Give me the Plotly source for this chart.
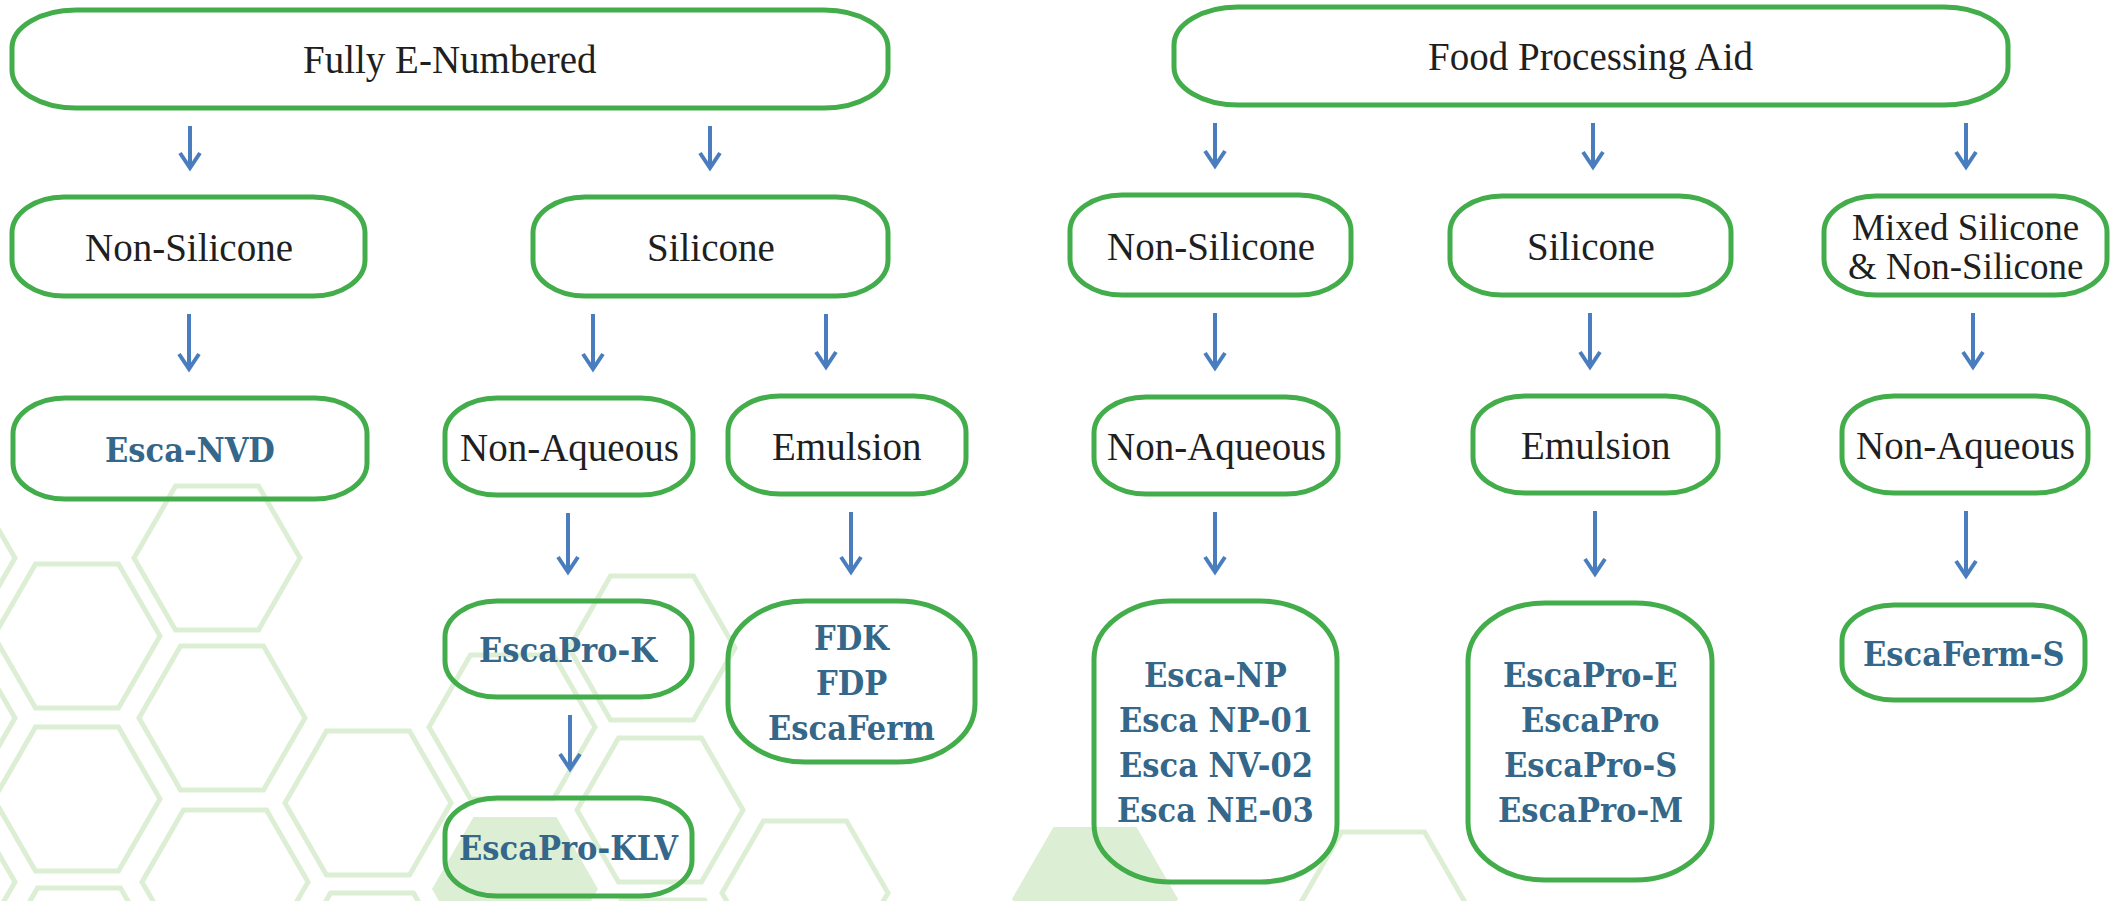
import plotly.graph_objects as go

# ---------------- DATA ----------------
# Flowchart nodes (labels; "\n" separates lines)
node_labels = [
    "Fully E-Numbered",            # 0
    "Food Processing Aid",         # 1
    "Non-Silicone",                # 2
    "Silicone",                    # 3
    "Esca-NVD",                    # 4
    "Non-Aqueous",                 # 5
    "Emulsion",                    # 6
    "EscaPro-K",                   # 7
    "FDK\nFDP\nEscaFerm",          # 8
    "EscaPro-KLV",                 # 9
    "Non-Silicone",                # 10
    "Silicone",                    # 11
    "Mixed Silicone\n& Non-Silicone",  # 12
    "Non-Aqueous",                 # 13
    "Emulsion",                    # 14
    "Non-Aqueous",                 # 15
    "Esca-NP\nEsca NP-01\nEsca NV-02\nEsca NE-03",   # 16
    "EscaPro-E\nEscaPro\nEscaPro-S\nEscaPro-M",      # 17
    "EscaFerm-S",                  # 18
]
# product nodes (shown in bold blue)
product_nodes = [4, 7, 8, 9, 16, 17, 18]
# edges (parent -> child)
edge_from = [0, 0, 2, 3, 3, 5, 6, 7, 1, 1, 1, 10, 11, 12, 13, 14, 15]
edge_to   = [2, 3, 4, 5, 6, 7, 8, 9, 10, 11, 12, 13, 14, 15, 16, 17, 18]

# ---------------- LAYOUT (pixel geometry) ----------------
W, H = 2123, 901
box_geom = [
    (12, 10, 888, 108),
    (1174, 7, 2008, 105),
    (12, 197, 365, 296),
    (533, 197, 888, 296),
    (13, 398, 367, 499),
    (445, 398, 693, 495),
    (728, 396, 966, 494),
    (445, 601, 692, 697),
    (728, 601, 975, 762),
    (445, 798, 692, 896),
    (1070, 195, 1351, 295),
    (1450, 196, 1731, 295),
    (1824, 196, 2107, 295),
    (1094, 397, 1338, 494),
    (1473, 396, 1718, 493),
    (1842, 396, 2088, 493),
    (1094, 601, 1337, 882),
    (1468, 603, 1712, 880),
    (1842, 605, 2085, 700),
]
arrow_x = [190, 710, 189, 593, 826, 568, 851, 570,
           1215, 1593, 1966, 1215, 1590, 1973, 1215, 1595, 1966]

# background honeycomb (decorative): centres, radius
hex_outline = [(-68, 558), (-68, 718), (-68, 882),
               (77, 636), (77, 799), (79, 960),
               (217, 558), (222, 718), (225, 882),
               (368, 803), (372, 965),
               (512, 727),
               (652, 648), (660, 810), (663, 972),
               (805, 893), (1383, 904)]
hex_filled = [(515, 889), (1095, 899)]
HEX_R = 83

GREEN = "#42ad4a"
BLUE_ARROW = "#4a7dbe"
BLUE_TEXT = "#346789"
DARK_TEXT = "#1f1f1f"
HEX_COL = "#dcefd5"


def rrect(x0, y0, x1, y1, rx, ry):
    k = 0.5523
    return (f"M{x0+rx},{y0} L{x1-rx},{y0} "
            f"C{x1-rx+k*rx},{y0} {x1},{y0+ry-k*ry} {x1},{y0+ry} "
            f"L{x1},{y1-ry} "
            f"C{x1},{y1-ry+k*ry} {x1-rx+k*rx},{y1} {x1-rx},{y1} "
            f"L{x0+rx},{y1} "
            f"C{x0+rx-k*rx},{y1} {x0},{y1-ry+k*ry} {x0},{y1-ry} "
            f"L{x0},{y0+ry} "
            f"C{x0},{y0+ry-k*ry} {x0+rx-k*rx},{y0} {x0+rx},{y0} Z")


def hexpath(cx, cy, r):
    h = r * 0.8660254
    pts = [(cx - r, cy), (cx - r / 2, cy - h), (cx + r / 2, cy - h),
           (cx + r, cy), (cx + r / 2, cy + h), (cx - r / 2, cy + h)]
    return "M" + " L".join(f"{x},{y}" for x, y in pts) + " Z"


shapes = []
for cx, cy in hex_filled:
    shapes.append(dict(type="path", path=hexpath(cx, cy, HEX_R), xref="x", yref="y",
                       fillcolor=HEX_COL, line=dict(width=0), layer="below"))
for cx, cy in hex_outline:
    shapes.append(dict(type="path", path=hexpath(cx, cy, HEX_R), xref="x", yref="y",
                       fillcolor="rgba(0,0,0,0)", line=dict(color=HEX_COL, width=5),
                       layer="below"))

annotations = []
for i, lab in enumerate(node_labels):
    x0, y0, x1, y1 = box_geom[i]
    h = y1 - y0
    if i in (0, 1):
        rx, ry = 64, 38
    elif h < 130:
        rx, ry = 52, 36
    else:
        rx, ry = 77, 58
    shapes.append(dict(type="path", path=rrect(x0, y0, x1, y1, rx, ry), xref="x", yref="y",
                       fillcolor="rgba(0,0,0,0)", line=dict(color=GREEN, width=5)))
    bold = i in product_nodes
    lines = lab.split("\n")
    step = 45 if bold else 39
    cx = (x0 + x1) / 2
    cy = (y0 + y1) / 2
    for j, t in enumerate(lines):
        yy = cy + (j - (len(lines) - 1) / 2) * step
        if bold:
            font = dict(family="DejaVu Serif Condensed, DejaVu Serif", size=34,
                        color=BLUE_TEXT, weight="bold")
        else:
            font = dict(family="Liberation Serif", size=(37 if len(lines) > 1 else 39),
                        color=DARK_TEXT)
        annotations.append(dict(x=cx, y=yy + 1, xref="x", yref="y", text=t, showarrow=False,
                                xanchor="center", yanchor="middle", font=font))

for k, (a, b) in enumerate(zip(edge_from, edge_to)):
    x = arrow_x[k]
    ys = box_geom[a][3] + 18
    ye = box_geom[b][1] - 29
    shapes.append(dict(type="line", x0=x, x1=x, y0=ys, y1=ye - 2, xref="x", yref="y",
                       line=dict(color=BLUE_ARROW, width=4)))
    shapes.append(dict(type="path", xref="x", yref="y",
                       path=f"M{x-10},{ye-15} L{x},{ye} L{x+10},{ye-15}",
                       line=dict(color=BLUE_ARROW, width=4)))

fig = go.Figure()
fig.update_layout(
    width=W, height=H,
    margin=dict(l=0, r=0, t=0, b=0),
    paper_bgcolor="white", plot_bgcolor="white",
    xaxis=dict(range=[0, W], visible=False, fixedrange=True),
    yaxis=dict(range=[H, 0], visible=False, fixedrange=True),
    shapes=shapes, annotations=annotations, showlegend=False,
)
fig.write_html("out.html", config={"displayModeBar": False},
               post_script="document.body.style.margin='0';document.body.style.overflow='hidden';")
